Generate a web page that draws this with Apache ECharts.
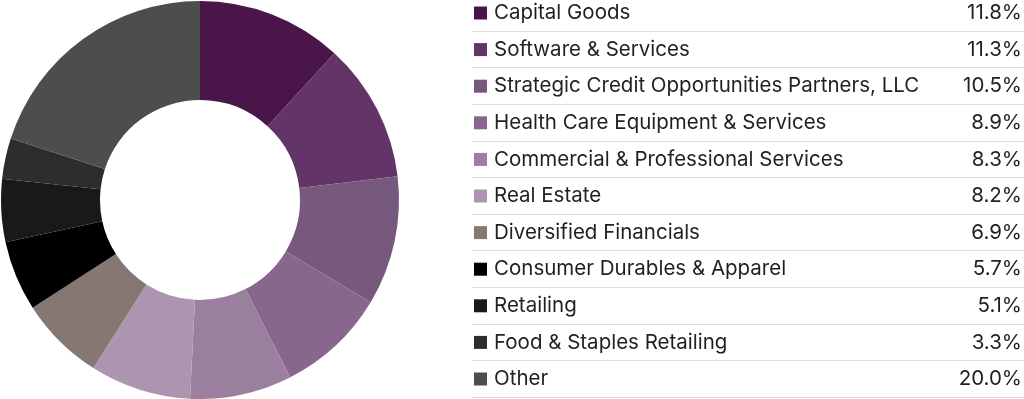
<!DOCTYPE html>
<html>
<head>
    <meta charset="utf-8">
    <title>Sector allocation</title>
    <script type="text/javascript" src="https://cdn.jsdelivr.net/npm/echarts@6/dist/echarts.min.js"></script>
</head>
<style type="text/css">
    html, body { margin: 0; padding: 0; background: #fff; }
    #chart { width: 1024px; height: 399px; }
</style>
<body>
    <div id="chart"></div>
    <script type="text/javascript">
        var categories = [
            'Capital Goods',
            'Software & Services',
            'Strategic Credit Opportunities Partners, LLC',
            'Health Care Equipment & Services',
            'Commercial & Professional Services',
            'Real Estate',
            'Diversified Financials',
            'Consumer Durables & Apparel',
            'Retailing',
            'Food & Staples Retailing',
            'Other'
        ];
        var values = [11.8, 11.3, 10.5, 8.9, 8.3, 8.2, 6.9, 5.7, 5.1, 3.3, 20.0];
        var colors = ['#4a1548', '#633468', '#77597d', '#87678c', '#9a7f9e', '#ad94b0',
                      '#857872', '#000000', '#1a1818', '#2e2d2d', '#4d4d4d'];

        var rowPitch = 36.6;
        var firstLine = 30.7;
        var rowText = 22;

        var chart = echarts.init(document.getElementById('chart'));

        var pieData = categories.map(function(name, i) {
            return { name: name, value: values[i], itemStyle: { color: colors[i] } };
        });

        // separator lines under every legend row
        var lines = categories.map(function(c, i) {
            var y = Math.round(firstLine + rowPitch * i) + 0.5;
            return {
                type: 'line',
                silent: true,
                shape: { x1: 472, y1: y, x2: 1024, y2: y },
                style: { stroke: '#dcdcdc', lineWidth: 1 }
            };
        });

        var option = {
            animation: false,
            color: colors,
            legend: {
                orient: 'vertical',
                left: 474,
                top: 2,
                padding: 0,
                itemWidth: 13,
                itemHeight: 13,
                itemGap: rowPitch - rowText,
                icon: 'rect',
                selectedMode: false,
                data: categories,
                formatter: function(name) {
                    var v = values[categories.indexOf(name)].toFixed(1) + '%';
                    return '{n|' + name + '}{v|' + v + '}';
                },
                textStyle: {
                    fontSize: 20.5,
                    lineHeight: rowText,
                    rich: {
                        n: {
                            width: 462,
                            fontFamily: 'Inter',
                            fontSize: 20.5,
                            lineHeight: rowText,
                            color: '#231f20',
                            padding: [0, 0, 0, 2]
                        },
                        v: {
                            width: 66,
                            align: 'right',
                            fontFamily: 'Inter',
                            fontSize: 20.5,
                            lineHeight: rowText,
                            color: '#231f20'
                        }
                    }
                }
            },
            graphic: lines,
            series: [{
                type: 'pie',
                center: [200, 200],
                radius: [100, 199],
                startAngle: 90,
                clockwise: true,
                silent: true,
                label: { show: false },
                labelLine: { show: false },
                itemStyle: { borderWidth: 0 },
                data: pieData
            }]
        };
        chart.setOption(option);
    </script>
</body>
</html>
